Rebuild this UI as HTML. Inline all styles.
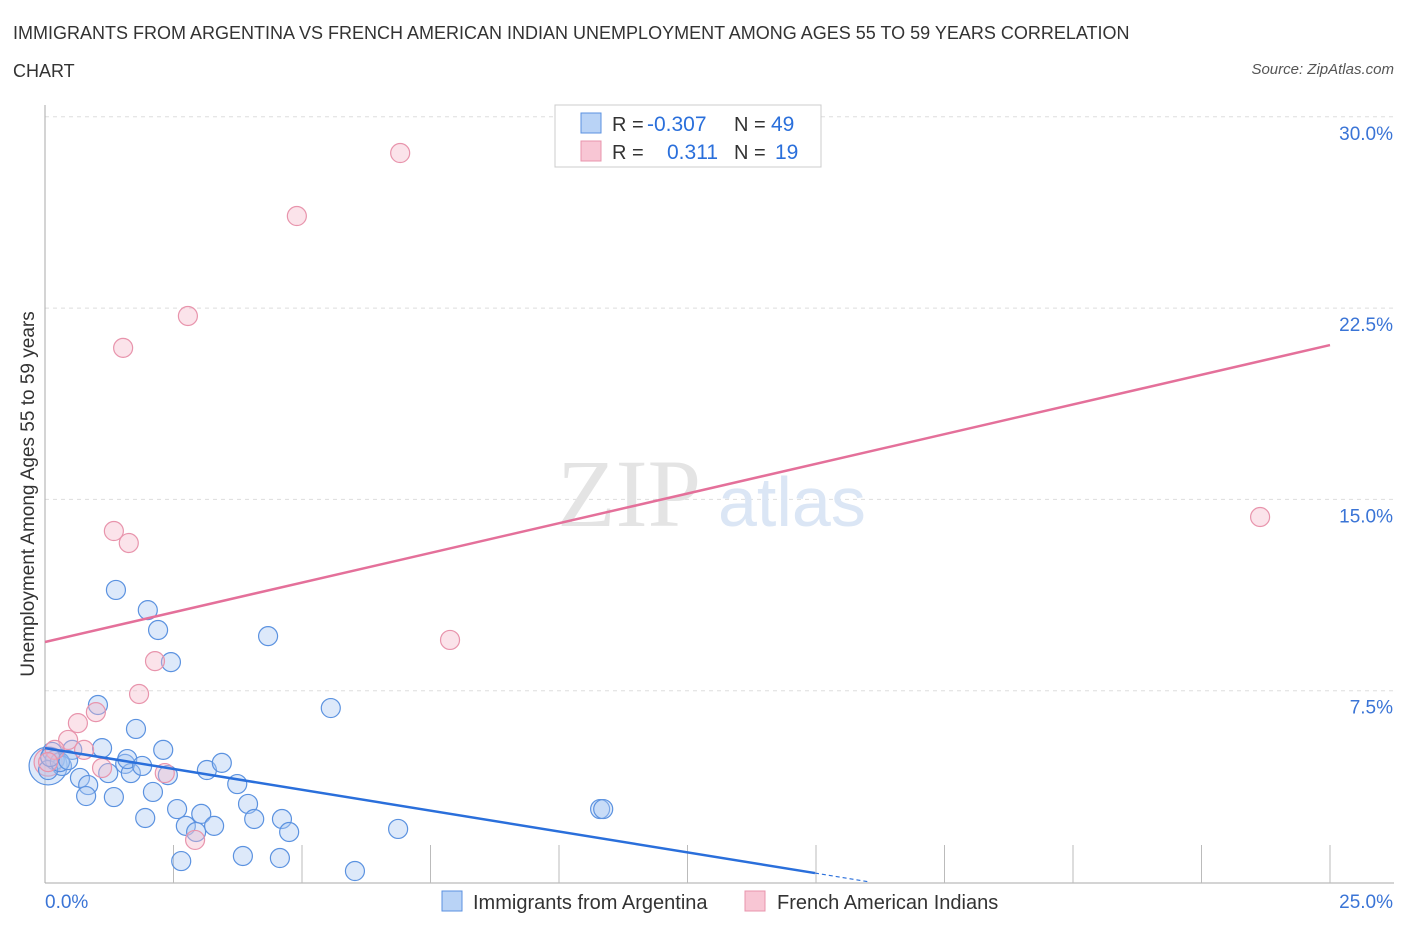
<!DOCTYPE html>
<html><head><meta charset="utf-8"><style>
body{margin:0;background:#fff;font-family:"Liberation Sans",sans-serif;}
.t{position:absolute;left:13px;top:14px;font-size:18px;color:#333;line-height:38px;width:1200px}
</style></head><body>
<div class="t">IMMIGRANTS FROM ARGENTINA VS FRENCH AMERICAN INDIAN UNEMPLOYMENT AMONG AGES 55 TO 59 YEARS CORRELATION<br>CHART</div>
<div style="position:absolute;right:12px;top:61px;font-size:15px;font-style:italic;color:#555">Source: ZipAtlas.com</div>
<svg id="c" width="1406" height="930" style="position:absolute;left:0;top:0"></svg>
<script>
const blueX=[1.38,2.00,2.20,2.45,4.34,1.03,5.56,1.77,2.30,1.11,0.53,0.14,0.19,0.33,0.68,0.84,0.80,1.34,1.23,1.56,1.67,1.60,1.89,2.10,2.39,3.15,3.44,3.74,2.57,1.95,2.74,3.04,2.94,3.29,3.95,4.07,4.61,4.75,6.87,2.65,3.85,4.57,6.03,10.80,10.86,0.06,0.29,0.45,0.10];
const blueY=[11.45,10.66,9.88,8.62,9.64,6.94,6.82,6.00,5.18,5.25,5.18,5.10,4.78,4.55,4.08,3.80,3.37,3.33,4.27,4.63,4.27,4.82,4.55,3.53,4.19,4.39,4.67,3.84,2.86,2.51,2.20,2.67,1.96,2.20,3.06,2.47,2.47,1.96,2.08,0.82,1.02,0.94,0.43,2.86,2.86,4.39,4.70,4.78,4.90];
const pinkX=[6.91,4.90,2.78,1.52,1.34,1.63,23.64,2.14,7.88,1.83,0.99,0.64,0.45,0.19,0.76,1.11,2.33,2.92,0.06];
const pinkY=[28.58,26.11,22.19,20.94,13.76,13.29,14.31,8.66,9.49,7.37,6.66,6.23,5.57,5.18,5.18,4.47,4.27,1.65,4.70];
const yTicks=[7.5,15,22.5,30];
const yTickLabels=["7.5%","15.0%","22.5%","30.0%"];
const blueTrend=[5.25,0.35,14.98];
const pinkTrend=[9.41,21.05];
const X=v=>45+v/25*1285, Y=v=>882-v/7.5*191.3;
const s=document.getElementById('c'),NS='http://www.w3.org/2000/svg';
function mk(t,a,txt){const e=document.createElementNS(NS,t);for(const k in a)e.setAttribute(k,a[k]);if(txt!=null)e.textContent=txt;s.appendChild(e);return e;}
yTicks.forEach((v,i)=>{
 let g=mk('line',{x1:45,x2:1394,y1:Y(v),y2:Y(v),stroke:'#ddd','stroke-dasharray':'4,4'});
 
 
 let t=mk('text',{x:1393,y:Y(v)+23,'text-anchor':'end','font-size':19,fill:'#3a74d6'},yTickLabels[i]);
 
 
});
mk('text',{x:557,y:526,'font-size':96,'font-family':'Liberation Serif',fill:'#e4e4e4'},'ZIP');
mk('text',{x:718,y:526,'font-size':70,fill:'#dbe6f5'},'atlas');
mk('line',{x1:45,x2:45,y1:105,y2:883,stroke:'#aaa'});
mk('line',{x1:45,x2:1394,y1:883,y2:883,stroke:'#aaa'});
for(let i=1;i<=10;i++){let l=mk('line',{x1:X(i*2.5),x2:X(i*2.5),y1:845,y2:883,stroke:'#bbb'});
 
 }
mk('text',{x:45,y:908,'font-size':19,fill:'#3a74d6'},'0.0%');
mk('text',{x:1393,y:908,'text-anchor':'end','font-size':19,fill:'#3a74d6'},'25.0%');
mk('text',{x:34,y:494,'font-size':19,fill:'#333','text-anchor':'middle',transform:'rotate(-90 34 494)'},'Unemployment Among Ages 55 to 59 years');
function pt(x,y,r,f,st,n){const c=mk('circle',{cx:X(x),cy:Y(y),r:r,fill:f,'fill-opacity':0.4,stroke:st,'stroke-width':1.2});
 
 }
pt(0.06,4.55,19,'#a9c8f2','#5b92e0','big-point-blue');
pt(0.06,4.7,14,'#f5b9ca','#e894ac','big-point-pink');
blueX.forEach((x,i)=>pt(x,blueY[i],9.5,'#a9c8f2','#5b92e0','point-argentina'));
pinkX.forEach((x,i)=>pt(x,pinkY[i],9.5,'#f5b9ca','#e894ac','point-french-american-indian'));
const slope=(blueTrend[1]-blueTrend[0])/blueTrend[2];
const xZero=-blueTrend[0]/slope;
mk('line',{x1:X(0),y1:Y(blueTrend[0]),x2:X(blueTrend[2]),y2:Y(blueTrend[1]),stroke:'#2a6fdb','stroke-width':2.5});
mk('line',{x1:X(blueTrend[2]),y1:Y(blueTrend[1]),x2:X(xZero),y2:Y(0),stroke:'#2a6fdb','stroke-width':1.2,'stroke-dasharray':'4,3'});
mk('line',{x1:X(0),y1:Y(pinkTrend[0]),x2:X(25),y2:Y(pinkTrend[1]),stroke:'#e4709a','stroke-width':2.5});
mk('rect',{x:555,y:105,width:266,height:62,fill:'#fff',stroke:'#ccc'});
mk('rect',{x:581,y:113,width:20,height:20,fill:'#b9d3f6',stroke:'#5b92e0'});
mk('rect',{x:581,y:141,width:20,height:20,fill:'#f8c6d4',stroke:'#e894ac'});
mk('text',{x:612,y:131,'font-size':20,fill:'#333'},'R =');
mk('text',{x:647,y:131,'font-size':21,fill:'#2a6fdb'},'-0.307');
mk('text',{x:734,y:131,'font-size':20,fill:'#333'},'N =');
mk('text',{x:771,y:131,'font-size':21,fill:'#2a6fdb'},'49');
mk('text',{x:612,y:159,'font-size':20,fill:'#333'},'R =');
mk('text',{x:667,y:159,'font-size':21,fill:'#2a6fdb'},'0.311');
mk('text',{x:734,y:159,'font-size':20,fill:'#333'},'N =');
mk('text',{x:775,y:159,'font-size':21,fill:'#2a6fdb'},'19');
mk('rect',{x:442,y:891,width:20,height:20,fill:'#b9d3f6',stroke:'#5b92e0'});
mk('text',{x:473,y:909,'font-size':20,fill:'#333'},'Immigrants from Argentina');
mk('rect',{x:745,y:891,width:20,height:20,fill:'#f8c6d4',stroke:'#e894ac'});
mk('text',{x:777,y:909,'font-size':20,fill:'#333'},'French American Indians');
</script>
</body></html>
